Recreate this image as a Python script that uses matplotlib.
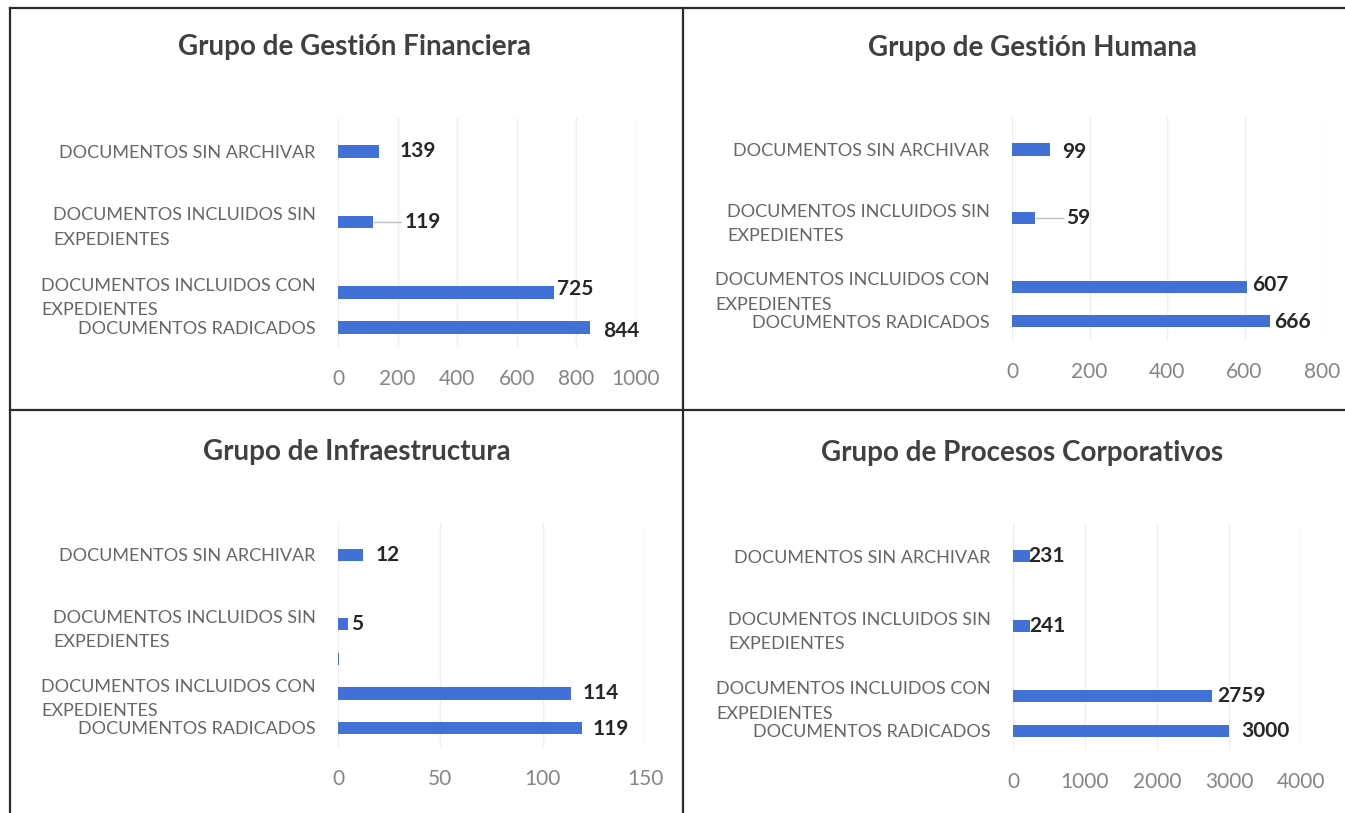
import matplotlib
matplotlib.use("Agg")
import matplotlib.pyplot as plt
import numpy as np

# data
categories = ["DOCUMENTOS SIN ARCHIVAR",
              "DOCUMENTOS INCLUIDOS SIN\nEXPEDIENTES",
              "DOCUMENTOS INCLUIDOS CON\nEXPEDIENTES",
              "DOCUMENTOS RADICADOS"]
financiera = [139, 119, 725, 844]
humana = [99, 59, 607, 666]
infraestructura = [12, 5, 114, 119]
corporativos = [231, 241, 2759, 3000]
infra_blank = 0.6   # thin unlabelled sliver in the Infraestructura chart

titles = ["Grupo de Gestión Financiera", "Grupo de Gestión Humana",
          "Grupo de Infraestructura", "Grupo de Procesos Corporativos"]
x_max = [1000, 800, 150, 4000]
x_step = [200, 200, 50, 1000]

# layout (pixels on a 1345x813 canvas)
W, H = 1345, 813
slots = [0, 2, 4, 5]
boxes = [(338, 636, 118, 347), (1012, 1322, 117, 340),
         (338, 645, 522, 747), (1013, 1301, 523, 750)]
title_pos = [(354, 47), (1032, 48), (357, 452), (1022, 453)]
label_dx = [[20, 31, 3, 14], [12, 31, 5, 4], [13, 3, 11, 11], [-1, -1, 6, 12]]
label_dy = [[0, 0, -3, 3], [2, 0, -2, 1], [0, 0, 0, 1], [0, 0, 0, 0]]
leader = [1, 1, None, None]

bar_color = "#4170d6"
font = "Lato"

fig = plt.figure(figsize=(W / 100, H / 100), dpi=100)
fig.patch.set_facecolor("white")

series = [financiera, humana, infraestructura, corporativos]
for i, vals in enumerate(series):
    l, r, t, b = boxes[i]
    ax = fig.add_axes([l / W, 1 - b / H, (r - l) / W, (b - t) / H])
    ax.barh(slots, vals, height=0.36, color=bar_color)
    if i == 2:
        ax.barh([3], [infra_blank], height=0.36, color=bar_color)
    ax.set_xlim(0, x_max[i])
    ax.set_ylim(5.55, -0.95)
    ax.set_xticks(np.arange(0, x_max[i] + 1, x_step[i]))
    ax.set_yticks(slots)
    ax.set_yticklabels(categories, fontfamily=font, fontweight="normal",
                       fontsize=13, color="#666666", linespacing=1.65)
    for lbl in ax.get_yticklabels():
        lbl.set_multialignment("left")
    for lbl in ax.get_xticklabels():
        lbl.set_fontfamily(font)
        lbl.set_fontsize(15)
        lbl.set_color("#858585")
    ax.tick_params(axis="x", length=0, pad=16)
    ax.tick_params(axis="y", length=0, pad=16)
    ax.grid(axis="x", color="#efefef", linewidth=1)
    ax.set_axisbelow(True)
    for s in ax.spines.values():
        s.set_visible(False)

    # data labels, offsets in pixels
    px = (r - l) / x_max[i]
    py = (b - t) / 6.5
    for j, v in enumerate(vals):
        x = v + label_dx[i][j] / px
        y = slots[j] + label_dy[i][j] / py
        ax.text(x, y, str(v), ha="left", va="center", fontfamily=font,
                fontweight="bold", fontsize=15, color="#262626")
        if leader[i] == j:
            ax.plot([v + 1 / px, v + (label_dx[i][j] - 3) / px], [y, y],
                    color="#bfbfbf", linewidth=1)

    tx, ty = title_pos[i]
    fig.text(tx / W, 1 - ty / H, titles[i], ha="center", va="center",
             fontfamily=font, fontweight="bold", fontsize=20, color="#404040")

# panel frame lines
frame = fig.add_axes([0, 0, 1, 1], facecolor="none")
frame.set_xlim(0, W)
frame.set_ylim(H, 0)
frame.axis("off")
frame.plot([10, W], [8, 8], color="#2b2b2b", linewidth=1.6)
frame.plot([10, 10], [8, H], color="#2b2b2b", linewidth=1.6)
frame.plot([683, 683], [8, H], color="#2b2b2b", linewidth=1.6)
frame.plot([10, W], [410, 410], color="#2b2b2b", linewidth=1.6)

fig.savefig("out.png", dpi=100)
